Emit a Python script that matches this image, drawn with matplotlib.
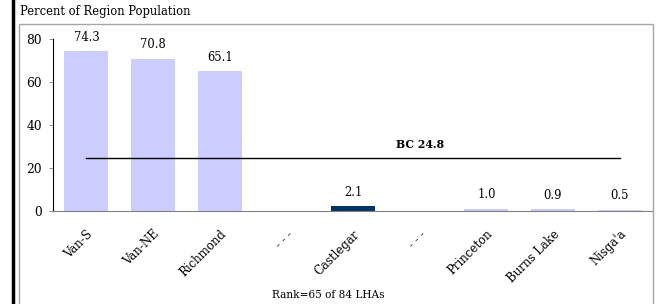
import matplotlib.pyplot as plt
from matplotlib.patches import Rectangle
from matplotlib.lines import Line2D

labels = ['Van-S', 'Van-NE', 'Richmond', '- - -', 'Castlegar', '- - -', 'Princeton', 'Burns Lake', "Nisga'a"]
values = [74.3, 70.8, 65.1, None, 2.1, None, 1.0, 0.9, 0.5]
highlight = 'Castlegar'
bc_value = 24.8
yticks = [0, 20, 40, 60, 80]

plt.rcParams['font.family'] = ['DejaVu Serif']

fig = plt.figure(figsize=(6.56, 3.04), dpi=100)
W, H = 656, 304

# outer frame bits
fig.add_artist(Rectangle((19 / W, -0.1), (653 - 19) / W, 1.1 - 24 / H, transform=fig.transFigure,
                         fill=False, edgecolor='#a6a6a6', linewidth=1.0))
fig.add_artist(Line2D([13 / W, 13 / W], [0, 1], transform=fig.transFigure, color='black', linewidth=2.5))
fig.text(20 / W, 1 - 12 / H, 'Percent of Region Population', fontsize=8.3, va='center', ha='left')

ax = fig.add_axes([53 / W, 1 - 211 / H, 600 / W, 172 / H])
x = list(range(len(labels)))
for i, (lab, v) in enumerate(zip(labels, values)):
    if v is None:
        continue
    col = '#003366' if lab == highlight else '#ccccff'
    ax.bar(i, v, width=0.66, color=col)
    ax.text(i, v + 3.5, f'{v:.1f}', ha='center', va='bottom', fontsize=8.3, clip_on=False)

ax.plot([0, len(labels) - 1], [bc_value, bc_value], color='black', linewidth=1.0)
ax.text(5, bc_value + 3.8, f'BC {bc_value}', ha='center', va='bottom', fontsize=7.8, fontweight='bold')

ax.set_xlim(-0.5, len(labels) - 0.5)
ax.set_ylim(0, 80)
ax.set_yticks(yticks)
ax.set_xticks(x)
ax.set_xticklabels(labels, rotation=45, ha='right', rotation_mode='anchor', fontsize=8.5)
ax.tick_params(axis='x', length=0, pad=12)
ax.tick_params(axis='y', direction='out', length=3, width=0.6, color='#808080', labelsize=8.8, pad=5)

ax.spines['top'].set_visible(False)
ax.spines['right'].set_visible(False)
ax.spines['left'].set_color('black')
ax.spines['bottom'].set_color('#808080')

fig.text(328 / W, 1 - 295 / H, 'Rank=65 of 84 LHAs', fontsize=7.6, ha='center', va='center')

fig.savefig('out.png', dpi=100)
